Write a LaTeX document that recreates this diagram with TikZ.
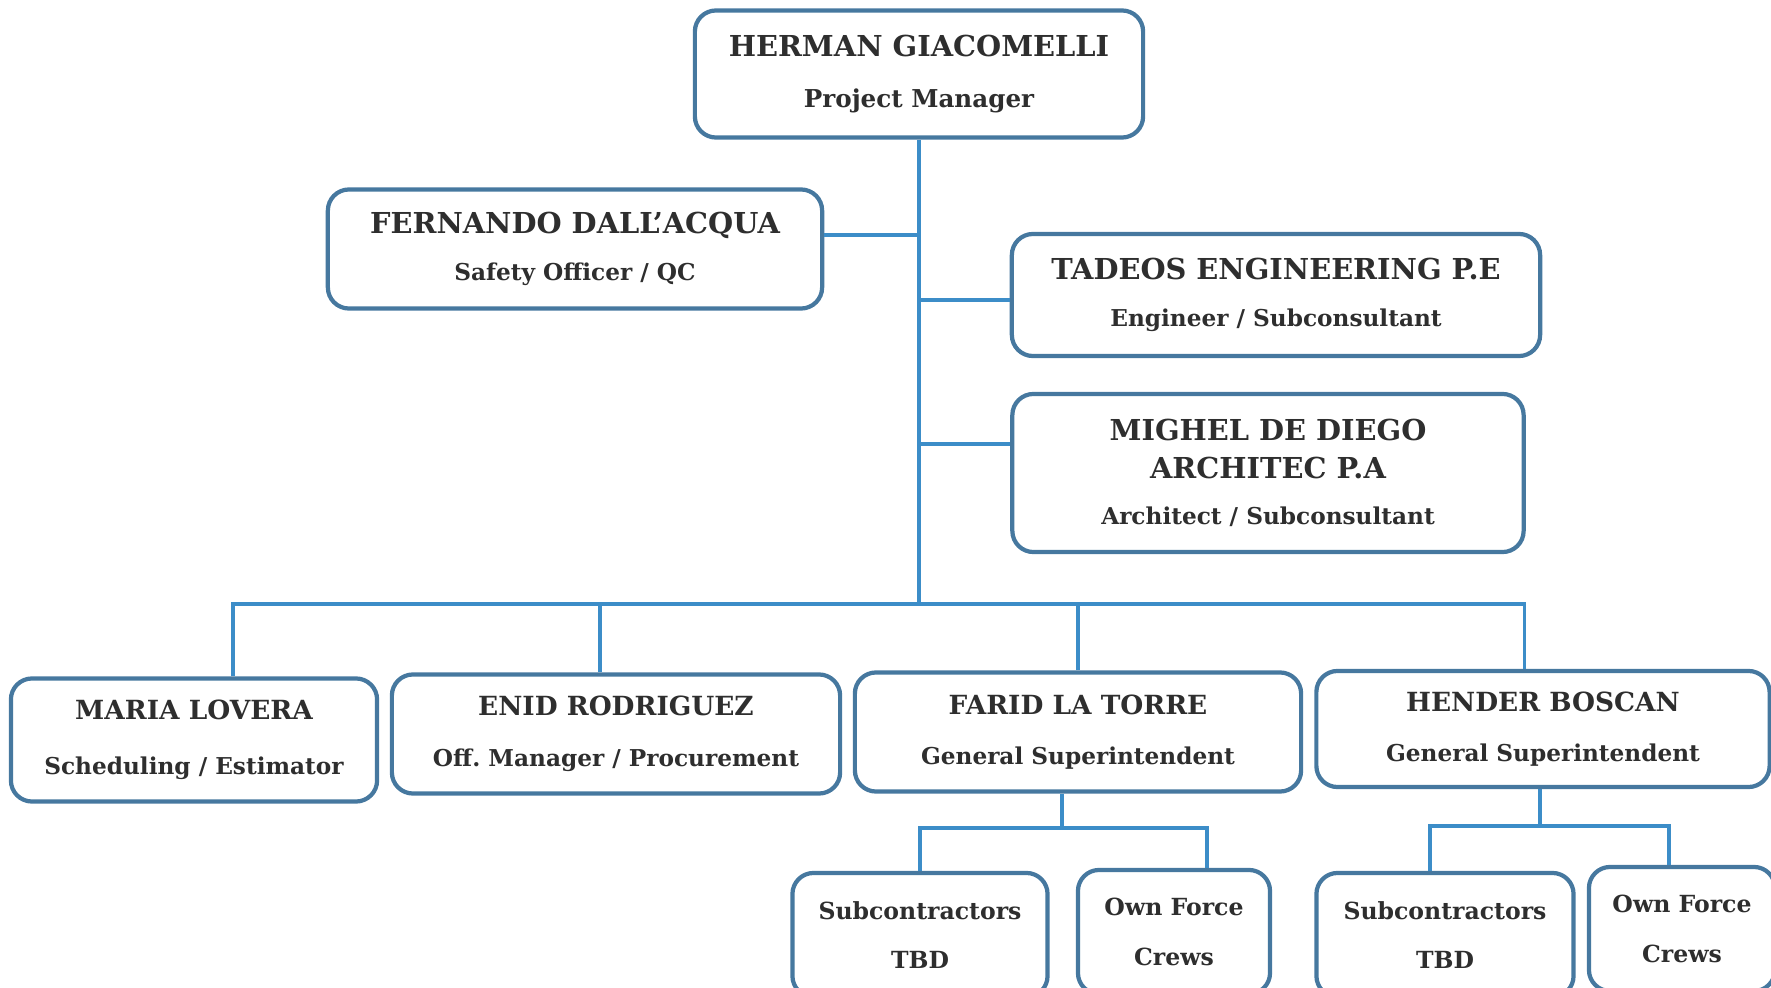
\documentclass[tikz,border=0pt]{standalone}
\usepackage{fontspec}
\setmainfont{DejaVu Serif}
\usetikzlibrary{positioning}
\definecolor{boxblue}{HTML}{46789F}
\definecolor{linkblue}{HTML}{3C8DC8}
\definecolor{ink}{HTML}{2E2E2E}
\newcommand{\boxname}[1]{{\fontsize{8.2}{9.6}\selectfont #1}}
\newcommand{\rowname}[1]{{\fontsize{7.5}{9}\selectfont #1}}
\newcommand{\boxrole}[1]{{\fontsize{6.6}{8}\selectfont #1}}
\newcommand{\crewtext}[1]{{\fontsize{6.7}{8}\selectfont #1}}
\tikzset{
  person/.style={rectangle, draw=boxblue, line width=1.2pt, rounded corners=6pt, fill=white,
    align=center, text=ink, font=\bfseries, inner sep=0pt},
  link/.style={draw=linkblue, line width=0.9pt},
}

\begin{document}
\begin{tikzpicture}[x=0.01cm,y=-0.01cm]
  \useasboundingbox (0,0) rectangle (1771,988);
  \clip (0,0) rectangle (1771,988);
  % top
  \node[person, minimum width=4.48cm, minimum height=1.27cm] (pm) at (919,74) {\boxname{HERMAN GIACOMELLI}\\[2.7pt]\boxrole{\fontsize{7}{8}\selectfont Project Manager}};
  \node[person, minimum width=4.94cm, minimum height=1.19cm] (safety) at (575,249) {\boxname{FERNANDO DALL'ACQUA}\\[1.4pt]\boxrole{Safety Officer / QC}};
  \node[person, minimum width=5.28cm, minimum height=1.22cm] (eng) at (1276,295) {\boxname{TADEOS ENGINEERING P.E}\\[1.4pt]\boxrole{Engineer / Subconsultant}};
  \node[person, minimum width=5.11cm, minimum height=1.58cm] (arch) at (1268,473) {\boxname{MIGHEL DE DIEGO}\\[-1.2pt]\boxname{ARCHITEC P.A}\\[1.2pt]\boxrole{Architect / Subconsultant}};
  % middle row
  \node[person, minimum width=3.66cm, minimum height=1.23cm] (maria) at (194,740) {\rowname{MARIA LOVERA}\\[3.8pt]\boxrole{Scheduling / Estimator}};
  \node[person, minimum width=4.48cm, minimum height=1.19cm] (enid) at (616,734) {\rowname{ENID RODRIGUEZ}\\[2.5pt]\boxrole{Off.\ Manager / Procurement}};
  \node[person, minimum width=4.46cm, minimum height=1.19cm] (farid) at (1078,732) {\rowname{FARID LA TORRE}\\[2.2pt]\boxrole{General Superintendent}};
  \node[person, minimum width=4.53cm, minimum height=1.16cm] (hender) at (1543,729) {\rowname{HENDER BOSCAN}\\[2.2pt]\boxrole{General Superintendent}};
  % crews
  \node[person, minimum width=2.55cm, minimum height=1.24cm] (subA) at (920,935) {\crewtext{Subcontractors}\\[2.1pt]\crewtext{TBD}};
  \node[person, minimum width=1.92cm, minimum height=1.24cm] (crewA) at (1174,932) {\crewtext{Own Force}\\[2.1pt]\crewtext{Crews}};
  \node[person, minimum width=2.57cm, minimum height=1.24cm] (subB) at (1445,935) {\crewtext{Subcontractors}\\[2.1pt]\crewtext{TBD}};
  \node[person, minimum width=1.86cm, minimum height=1.24cm] (crewB) at (1682,929) {\crewtext{Own Force}\\[2.1pt]\crewtext{Crews}};
  %
  \coordinate (bus) at (919,604);
  \coordinate (fjoint) at (1062,828);
  \coordinate (hjoint) at (1540,826);
  \draw[link] (pm) -- (bus);
  \draw[link] ([yshift=.14cm]safety.east) -- ([yshift=.14cm]safety.east -| pm.south);
  \draw[link] ([yshift=-.05cm]eng.west) -- ([yshift=-.05cm]eng.west -| pm.south);
  \draw[link] ([yshift=.29cm]arch.west) -- ([yshift=.29cm]arch.west -| pm.south);
  \draw[link] ([xshift=.39cm]maria.north) |- (bus);
  \draw[link] ([xshift=-.185cm]hender.north) |- (bus);
  \draw[link] ([xshift=-.16cm]enid.north) -- ([xshift=-.16cm]enid.north |- bus);
  \draw[link] (farid.north) -- (farid.north |- bus);
  \draw[link] (farid.south -| fjoint) -- (fjoint);
  \draw[link] (subA.north) |- (fjoint) -| ([xshift=.33cm]crewA.north);
  \draw[link] (hender.south -| hjoint) -- (hjoint);
  \draw[link] ([xshift=-.15cm]subB.north) |- (hjoint) -| ([xshift=-.13cm]crewB.north);
\end{tikzpicture}
\end{document}
